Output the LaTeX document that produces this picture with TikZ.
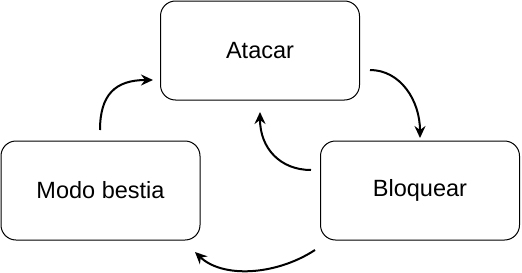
\documentclass[tikz,border=0pt]{standalone}
\usepackage{fontspec}
\setmainfont{Liberation Sans}
\usetikzlibrary{arrows.meta}
\begin{document}
\begin{tikzpicture}[x=1pt,y=-1pt,
  statebox/.style={draw=black,line width=1pt,rounded corners=15pt,fill=white,
    minimum width=199pt,minimum height=99pt,inner sep=0pt,
    font=\fontsize{23.5}{27}\selectfont},
  flow/.style={line width=2pt,-{Stealth[length=12pt,width=11pt,inset=4pt]}}]
  \useasboundingbox (0,0) rectangle (522,273);
  % states
  \node[statebox] (atacar) at (260,50.5) {Atacar};
  \node[statebox] (modo) at (100.5,190.5) {Modo bestia};
  \node[statebox] (bloquear) at (420,190.5) {Bloquear};
  % connector end points
  \coordinate (m1) at (100,130);
  \coordinate (a1) at (153,80);
  \coordinate (a2) at (370,70);
  \coordinate (b2) at (420,138);
  \coordinate (b3) at (311,170);
  \coordinate (a3) at (260,112);
  \coordinate (b4) at (315,250);
  \coordinate (m4) at (195,252);
  % transitions
  \draw[flow] (m1) .. controls (100,95) and (115,80) .. (a1);
  \draw[flow] (a2) .. controls (400,70) and (420,100) .. (b2);
  \draw[flow] (b3) .. controls (280,170) and (260,148) .. (a3);
  \draw[flow] (b4) .. controls (275,276) and (222,278) .. (m4);
\end{tikzpicture}
\end{document}
